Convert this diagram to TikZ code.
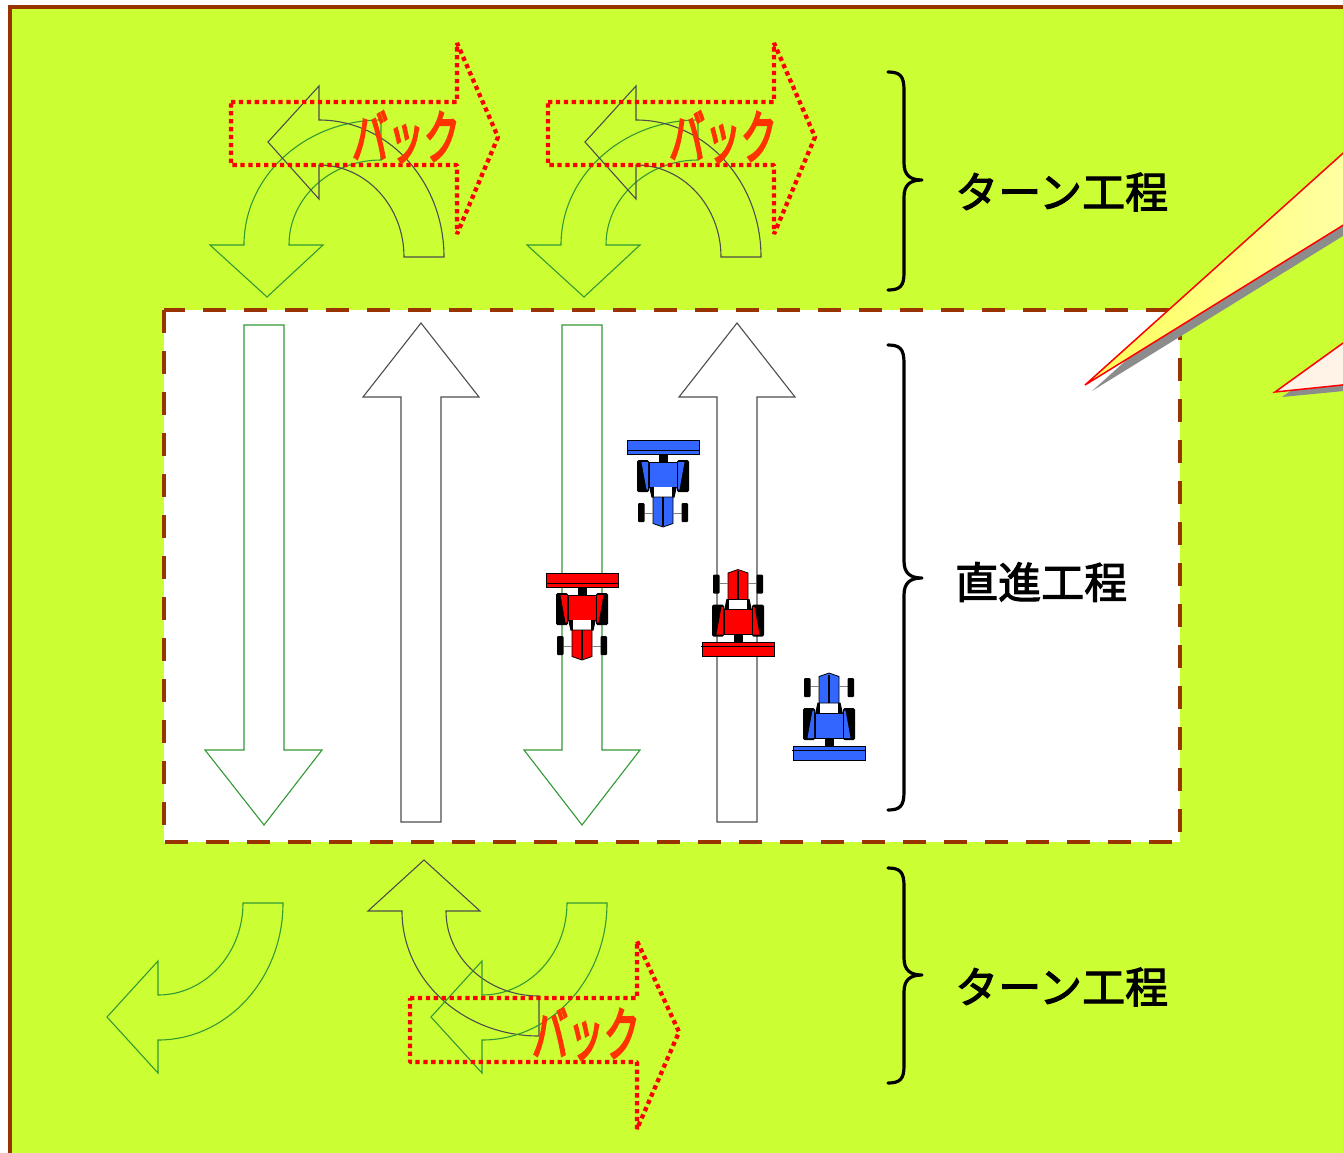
\documentclass[tikz,border=0pt]{standalone}
\usepackage{graphicx}
\usepackage{fontspec}
\newfontfamily\jpfont{Noto Sans CJK JP}[FakeBold=2.4]
\newfontfamily\jpheavy{Noto Sans CJK JP}[FakeBold=4.5]
\usetikzlibrary{calc}

\definecolor{lime}{HTML}{CCFF33}
\definecolor{rust}{HTML}{993300}
\definecolor{arrowgreen}{HTML}{339933}
\definecolor{arrowgray}{HTML}{4D4D4D}
\definecolor{tblue}{HTML}{3366FF}
\definecolor{tred}{HTML}{FF0000}
\definecolor{backred}{HTML}{FF3300}
\definecolor{cream}{HTML}{FFF3E8}
\definecolor{wedgeA}{HTML}{FFFF5A}
\definecolor{wedgeB}{HTML}{FFFFB4}

\tikzset{
  greenarrow/.style={draw=arrowgreen, line width=1.1pt, line join=miter},
  grayarrow/.style={draw=arrowgray, line width=1.1pt, line join=miter},
  backarrow/.style={draw=red, line width=4.3pt, line join=bevel, dash pattern=on 4.3pt off 3.6pt},
  backtext/.style={text=backred, font=\jpheavy\fontsize{58}{58}\selectfont, inner sep=0pt},
  stagelabel/.style={font=\jpfont\fontsize{43}{43}\selectfont, anchor=west, inner sep=0pt},
  bracestroke/.style={line width=3.2pt, line cap=round, line join=round},
  fieldedge/.style={draw=rust, line width=4.5pt, dash pattern=on 23pt off 18pt},
  pics/tractor/.style={code={
    % implement and hitch
    \fill[black] (-4.5,-30) rectangle (4.5,-21);
    \filldraw[fill=#1, draw=black, line width=0.8pt] (-36,-43.5) rectangle (36,-29.5);
    \draw[black, line width=1pt] (-36,-33.5) -- (37,-33.5);
    % rear wheels with fenders
    \fill[black, rounded corners=1.5pt] (-26,-23.5) rectangle (-14,8.5);
    \fill[black, rounded corners=1.5pt] (14,-23.5) rectangle (26,8.5);
    \fill[#1] (-21.5,-21.5) -- (-15,-21.5) -- (-15,6) -- (-16.5,6) -- cycle;
    \fill[#1] (21.5,-21.5) -- (15,-21.5) -- (15,6) -- (16.5,6) -- cycle;
    % cabin, step and hood
    \fill[black] (-15,-2) -- (15,-2) -- (11.5,14) -- (-11.5,14) -- cycle;
    \filldraw[fill=#1, draw=black, line width=0.8pt] (-14,-21.5) rectangle (14,3.5);
    \fill[white] (-9,3.8) rectangle (9,13.5);
    \filldraw[fill=#1, draw=black, line width=0.8pt]
      (-10,13.5) -- (10,13.5) -- (10,40) -- (0,43.5) -- (-10,40) -- cycle;
    \draw[black, line width=1.2pt] (0,13.5) -- (0,42);
    % front wheels and axle
    \draw[gray, line width=0.6pt] (-18.5,30) -- (-10,30) (10,30) -- (18.5,30);
    \fill[black, rounded corners=1pt] (-25,19.5) rectangle (-18.5,38.5);
    \fill[black, rounded corners=1pt] (18.5,19.5) rectangle (25,38.5);
  }}
}

\begin{document}
\begin{tikzpicture}[x=1pt, y=-1pt]
\useasboundingbox (0,0) rectangle (1343,1152);
\fill[white] (0,0) rectangle (1343,1152);
\begin{scope}
\clip (0,0) rectangle (1343,1152);

% field background
\filldraw[fill=lime, draw=rust, line width=4pt] (10,7) rectangle (1370,1180);

% straight-run area
\filldraw[fill=white, fieldedge] (164,310) rectangle (1180,842);

% straight arrows
\filldraw[fill=white, greenarrow] (244,325) -- (284,325) -- (284,750) -- (322,750)
  -- (264,825) -- (205,750) -- (244,750) -- cycle;
\filldraw[fill=white, grayarrow] (401,822) -- (441,822) -- (441,397) -- (479,397)
  -- (421,323) -- (363,397) -- (401,397) -- cycle;
\filldraw[fill=white, greenarrow] (562,325) -- (602,325) -- (602,750) -- (640,750)
  -- (582,825) -- (524,750) -- (562,750) -- cycle;
\filldraw[fill=white, grayarrow] (717,822) -- (757,822) -- (757,397) -- (795,397)
  -- (737,323) -- (679,397) -- (717,397) -- cycle;

% headland turns, upper side
\foreach \dx in {0,317}{
  \begin{scope}[shift={(\dx,0)}]
    \draw[greenarrow] (244,245)
      arc[start angle=180, end angle=270, x radius=137, y radius=125]
      -- (381,160)
      arc[start angle=270, end angle=180, x radius=92, y radius=85]
      -- (323,245) -- (267,297) -- (210,245) -- cycle;
    \draw[grayarrow] (319,120)
      arc[start angle=270, end angle=360, x radius=125, y radius=137]
      -- (404,257)
      arc[start angle=0, end angle=-90, x radius=85, y radius=92]
      -- (319,199) -- (268,142) -- (319,86) -- cycle;
    \draw[backarrow] (231,102) -- (457,102) -- (457,43) -- (498,137)
      -- (457,234) -- (457,165) -- (231,165) -- cycle;
  \end{scope}
}
\node[backtext] (backA) at (406,137) {\scalebox{0.62}[1]{バック}};
\node[backtext] (backB) at (723,137) {\scalebox{0.62}[1]{バック}};

% headland turns, lower side
\draw[greenarrow] (158,995)
  arc[start angle=90, end angle=0, x radius=85, y radius=92]
  -- (283,903)
  arc[start angle=0, end angle=90, x radius=125, y radius=137]
  -- (158,1073) -- (107,1017) -- (158,961) -- cycle;
\draw[grayarrow] (402,911)
  arc[start angle=180, end angle=90, x radius=137, y radius=125]
  -- (539,996)
  arc[start angle=90, end angle=180, x radius=93, y radius=85]
  -- (480,911) -- (424,860) -- (368,911) -- cycle;
\draw[greenarrow] (482,995)
  arc[start angle=90, end angle=0, x radius=85, y radius=92]
  -- (607,903)
  arc[start angle=0, end angle=90, x radius=125, y radius=137]
  -- (482,1073) -- (431,1017) -- (482,961) -- cycle;
\draw[backarrow] (410,998) -- (637,998) -- (637,941) -- (679,1032)
  -- (637,1129) -- (637,1062) -- (410,1062) -- cycle;
\node[backtext] (backC) at (586,1034) {\scalebox{0.62}[1]{バック}};

% tractors
\pic at (663,483.5) {tractor=tblue};
\pic at (582,616.5) {tractor=tred};
\pic[rotate=180] at (738,613) {tractor=tred};
\pic[rotate=180] at (829,716.5) {tractor=tblue};

% callout tails on the right
\fill[gray!90] (1092,391) -- (1406,108) -- (1406,197) -- cycle;
\filldraw[draw=red, line width=1.5pt, left color=wedgeA, right color=wedgeB]
  (1085,385) -- (1400,102) -- (1400,190) -- cycle;
\fill[gray!90] (1282,397) -- (1406,308) -- (1406,385) -- cycle;
\filldraw[draw=red, line width=1.5pt, fill=cream]
  (1275,392) -- (1400,302) -- (1400,379) -- cycle;

% braces
\draw[bracestroke] (888,72) .. controls (900,72) and (904,76) .. (904,90)
  -- (904,163) .. controls (904,175) and (910,180) .. (922,180)
  .. controls (910,180) and (904,185) .. (904,197)
  -- (904,273) .. controls (904,286) and (900,290) .. (888,290);
\draw[bracestroke] (888,345) .. controls (900,345) and (904,349) .. (904,363)
  -- (904,561) .. controls (904,573) and (910,578) .. (922,578)
  .. controls (910,578) and (904,583) .. (904,595)
  -- (904,792) .. controls (904,806) and (900,810) .. (888,810);
\draw[bracestroke] (888,868) .. controls (900,868) and (904,872) .. (904,886)
  -- (904,958) .. controls (904,970) and (910,975) .. (922,975)
  .. controls (910,975) and (904,980) .. (904,992)
  -- (904,1066) .. controls (904,1079) and (900,1083) .. (888,1083);
\end{scope}

\node[stagelabel] (turnTop) at (955,192) {ターン工程};
\node[stagelabel] (straightRun) at (955,582) {直進工程};
\node[stagelabel] (turnBottom) at (955,987) {ターン工程};
\end{tikzpicture}
\end{document}
